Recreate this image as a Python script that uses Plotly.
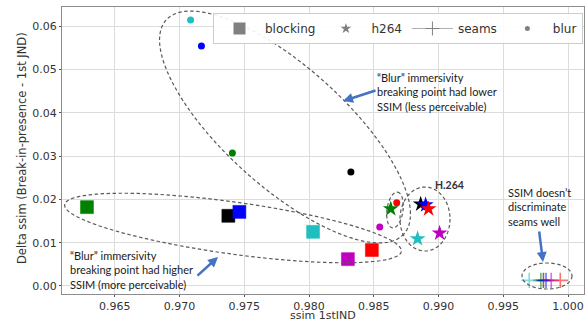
import numpy as np
import plotly.graph_objects as go

# ---------------- data ----------------
content_colors = ['#008000', '#000000', '#0000ff', '#1fbfbf', '#bf00bf', '#ff0000']

blocking_x = [0.96285, 0.97377, 0.97462, 0.98031, 0.98300, 0.98485]
blocking_y = [0.0182, 0.0162, 0.0171, 0.0125, 0.0062, 0.0083]

h264_x = [0.98631, 0.98862, 0.98900, 0.98838, 0.99008, 0.98923]
h264_y = [0.0178, 0.0189, 0.0187, 0.0109, 0.0122, 0.0178]

seams_x = [0.9979, 0.9981, 0.9983, 0.9970, 0.9987, 0.9994]
seams_y = [0.0013, 0.0013, 0.0013, 0.0013, 0.0013, 0.0013]

blur_x = [0.97408, 0.98323, 0.97169, 0.97085, 0.98546, 0.98677]
blur_y = [0.0307, 0.0263, 0.0554, 0.0614, 0.0136, 0.0192]

x_ticks = [0.965, 0.970, 0.975, 0.980, 0.985, 0.990, 0.995, 1.000]
y_ticks = [0.00, 0.01, 0.02, 0.03, 0.04, 0.05, 0.06]

# ---------------- layout geometry ----------------
W, H = 588, 320
ML, MR, MT, MB = 62, 4, 7, 26
X0, X1 = 0.960923, 1.001231
Y0, Y1 = -0.001848, 0.064388
PW, PH = W - ML - MR, H - MT - MB


def px2data(px, py):
    x = X0 + (px - ML) / PW * (X1 - X0)
    y = Y1 - (py - MT) / PH * (Y1 - Y0)
    return x, y


def ellipse_path(cx, cy, a, b, theta_deg, n=90):
    th = np.radians(theta_deg)
    t = np.linspace(0, 2 * np.pi, n)
    ux, uy = np.cos(th), np.sin(th)
    nx, ny = -np.sin(th), np.cos(th)
    pts = []
    for tt in t:
        px = cx + a * np.cos(tt) * ux + b * np.sin(tt) * nx
        py = cy + a * np.cos(tt) * uy + b * np.sin(tt) * ny
        pts.append(px2data(px, py))
    s = 'M ' + ' L '.join(f'{x:.6f},{y:.6f}' for x, y in pts) + ' Z'
    return s


fig = go.Figure()

# data traces
fig.add_trace(go.Scatter(x=blocking_x, y=blocking_y, mode='markers', showlegend=False,
                         marker=dict(symbol='square', size=13, color=content_colors,
                                     line=dict(width=0.5, color=content_colors))))
fig.add_trace(go.Scatter(x=h264_x, y=h264_y, mode='markers', showlegend=False,
                         marker=dict(symbol='star', size=12, color=content_colors,
                                     line=dict(width=0))))
fig.add_trace(go.Scatter(x=seams_x, y=seams_y, mode='markers', showlegend=False,
                         marker=dict(symbol='cross-thin', size=11, opacity=0.55,
                                     line=dict(width=1.6, color=content_colors))))
fig.add_trace(go.Scatter(x=blur_x, y=blur_y, mode='markers', showlegend=False,
                         marker=dict(symbol='circle', size=7, color=content_colors,
                                     line=dict(width=0))))

# legend proxies
grey = '#808080'
fig.add_trace(go.Scatter(x=[None], y=[None], mode='markers', name='blocking',
                         marker=dict(symbol='square', size=12, color=grey)))
fig.add_trace(go.Scatter(x=[None], y=[None], mode='markers', name='h264',
                         marker=dict(symbol='star', size=8, color=grey)))
fig.add_trace(go.Scatter(x=[None], y=[None], mode='lines+markers', name='seams',
                         line=dict(color='#b0b0b0', width=1),
                         marker=dict(symbol='cross-thin', size=10, line=dict(width=1, color=grey))))
fig.add_trace(go.Scatter(x=[None], y=[None], mode='markers', name='blur',
                         marker=dict(symbol='circle', size=5, color=grey)))

# dashed ellipses
ell_style = dict(color='#5a5a5a', width=1.2, dash='3.5px,2.5px')
ellipses = [
    (285, 127, 160, 60, 42),
    (233, 228, 170, 26, 7.9),
    (425, 219, 25, 32, 0),
    (395, 210, 18, 8, -82),
    (547, 276, 25, 13, 0),
]
shapes = []
for e in ellipses:
    shapes.append(dict(type='path', xref='x', yref='y', path=ellipse_path(*e),
                       line=ell_style, layer='above'))

# annotations
ann_font = dict(family='Lato, Open Sans, sans-serif', size=11, color='#1a1a1a')
arrow_col = '#4472c4'
annotations = []


def text_ann(px, py, text, xanchor='left', yanchor='top', font=ann_font):
    x, y = px2data(px, py)
    annotations.append(dict(x=x, y=y, xref='x', yref='y', text=text, showarrow=False,
                            xanchor=xanchor, yanchor=yanchor, align='left', font=font))


def arrow_ann(hx, hy, tx, ty):
    x, y = px2data(hx, hy)
    annotations.append(dict(x=x, y=y, xref='x', yref='y', text='', showarrow=True,
                            ax=tx - hx, ay=ty - hy, arrowcolor=arrow_col, arrowwidth=2.5,
                            arrowhead=2, arrowsize=0.8, standoff=0, startstandoff=0))


text_ann(375, 69, '\u201cBlur\u201d immersivity<br>breaking point had lower<br>SSIM (less perceivable)')
text_ann(68, 247, '\u201cBlur\u201d immersivity<br>breaking point had higher<br>SSIM (more perceivable)')
text_ann(449, 185, '<b>H.264</b>', xanchor='center', yanchor='middle',
         font=dict(family='Lato, Open Sans, sans-serif', size=10.5, color='#333'))
text_ann(506, 184, 'SSIM doesn\u2019t<br>discriminate<br>seams well')
arrow_ann(343, 101, 377, 90)
arrow_ann(218, 257, 196, 277)
arrow_ann(543, 262, 539, 230)

# axis titles placed as paper annotations
title_font = dict(family='DejaVu Sans', size=11.5, color='#333')
annotations.append(dict(x=0.5, y=(H - MB - 315) / PH, xref='paper', yref='paper',
                        text='ssim 1stIND', showarrow=False, xanchor='center',
                        yanchor='middle', borderpad=0,
                        font=dict(family='DejaVu Sans', size=11, color='#333')))
annotations.append(dict(x=(22 - ML) / PW, y=(H - MB - 148) / PH, xref='paper', yref='paper',
                        text='Delta ssim (Break-in-presence - 1st JND)', showarrow=False,
                        xanchor='center', yanchor='middle', textangle=-90, font=title_font))

axis_common = dict(showgrid=True, gridcolor='#dcdcdc', gridwidth=1, showline=True,
                   linecolor='#8c8c8c', linewidth=1, mirror=True, ticks='outside',
                   ticklen=2, tickcolor='#555', zeroline=False, automargin=False,
                   tickfont=dict(family='DejaVu Sans', size=11, color='#333'))

fig.update_layout(
    width=W, height=H,
    margin=dict(l=ML, r=MR, t=MT, b=MB),
    paper_bgcolor='white', plot_bgcolor='white',
    xaxis=dict(range=[X0, X1], tickvals=x_ticks, tickformat='.3f', **axis_common),
    yaxis=dict(range=[Y0, Y1], tickvals=y_ticks, tickformat='.2f', **axis_common),
    legend=dict(orientation='h', x=(213 - ML) / PW, y=(H - MB - 13) / PH,
                xanchor='left', yanchor='top', bgcolor='rgba(255,255,255,0.9)',
                bordercolor='#cccccc', borderwidth=1, itemwidth=41,
                font=dict(family='DejaVu Sans', size=12, color='#333')),
    shapes=shapes,
    annotations=annotations,
)

fig.write_html('out.html', config={'displayModeBar': False},
               post_script="document.body.style.margin='0';document.body.style.padding='0';")
